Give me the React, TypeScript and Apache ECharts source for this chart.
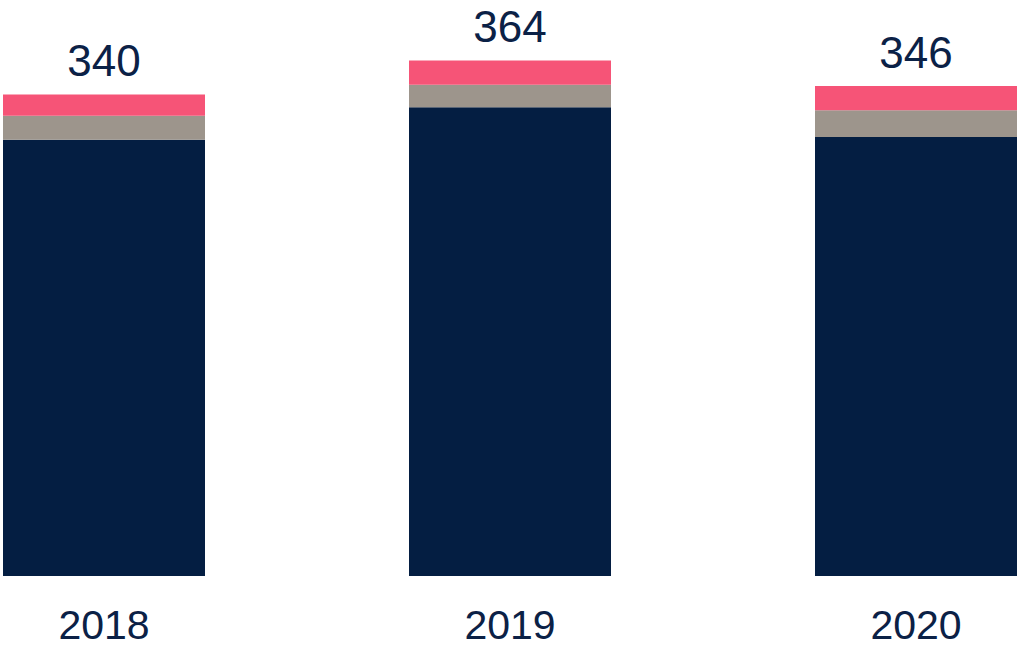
import React, { useEffect, useRef } from "react";
import * as echarts from "echarts";

const categories = ["2018", "2019", "2020"];
const navyValues = [308, 331, 310];
const grayValues = [17, 16, 19];
const pinkValues = [15, 17, 17];
const totals = [340, 364, 346];

const NAVY = "#041e42";
const GRAY = "#9d958c";
const PINK = "#f65477";
const TEXT = "#0b2146";
const FONT = "'Liberation Sans', Arial, sans-serif";

export default function App() {
  const ref = useRef<HTMLDivElement>(null);
  useEffect(() => {
    if (!ref.current) return;
    const chart = echarts.init(ref.current, undefined, { renderer: "svg" });
    chart.setOption({
      animation: false,
      grid: {
        left: 104,
        right: 103,
        top: 9.6,
        bottom: 73,
        containLabel: false,
        outerBoundsMode: "none",
      },
      xAxis: {
        type: "category",
        data: categories,
        boundaryGap: false,
        axisLine: { show: false },
        axisTick: { show: false },
        axisLabel: {
          color: TEXT,
          fontSize: 41,
          lineHeight: 34,
          fontFamily: FONT,
          margin: 32,
        },
        splitLine: { show: false },
      },
      yAxis: {
        type: "value",
        min: 0,
        max: 400,
        show: false,
        splitLine: { show: false },
      },
      series: [
        {
          type: "bar",
          stack: "total",
          data: navyValues,
          barWidth: 202,
          itemStyle: { color: NAVY },
        },
        {
          type: "bar",
          stack: "total",
          data: grayValues,
          barWidth: 202,
          itemStyle: { color: GRAY },
        },
        {
          type: "bar",
          stack: "total",
          data: pinkValues,
          barWidth: 202,
          itemStyle: { color: PINK },
          label: {
            show: true,
            position: "top",
            distance: 12,
            color: TEXT,
            fontSize: 44,
            lineHeight: 44,
            fontFamily: FONT,
            formatter: (p: any) => String(totals[p.dataIndex]),
          },
        },
      ],
    });
    return () => chart.dispose();
  }, []);
  return (
    <div
      ref={ref}
      style={{ position: "fixed", left: 0, top: 0, width: 1019, height: 649, background: "#fff" }}
    />
  );
}
